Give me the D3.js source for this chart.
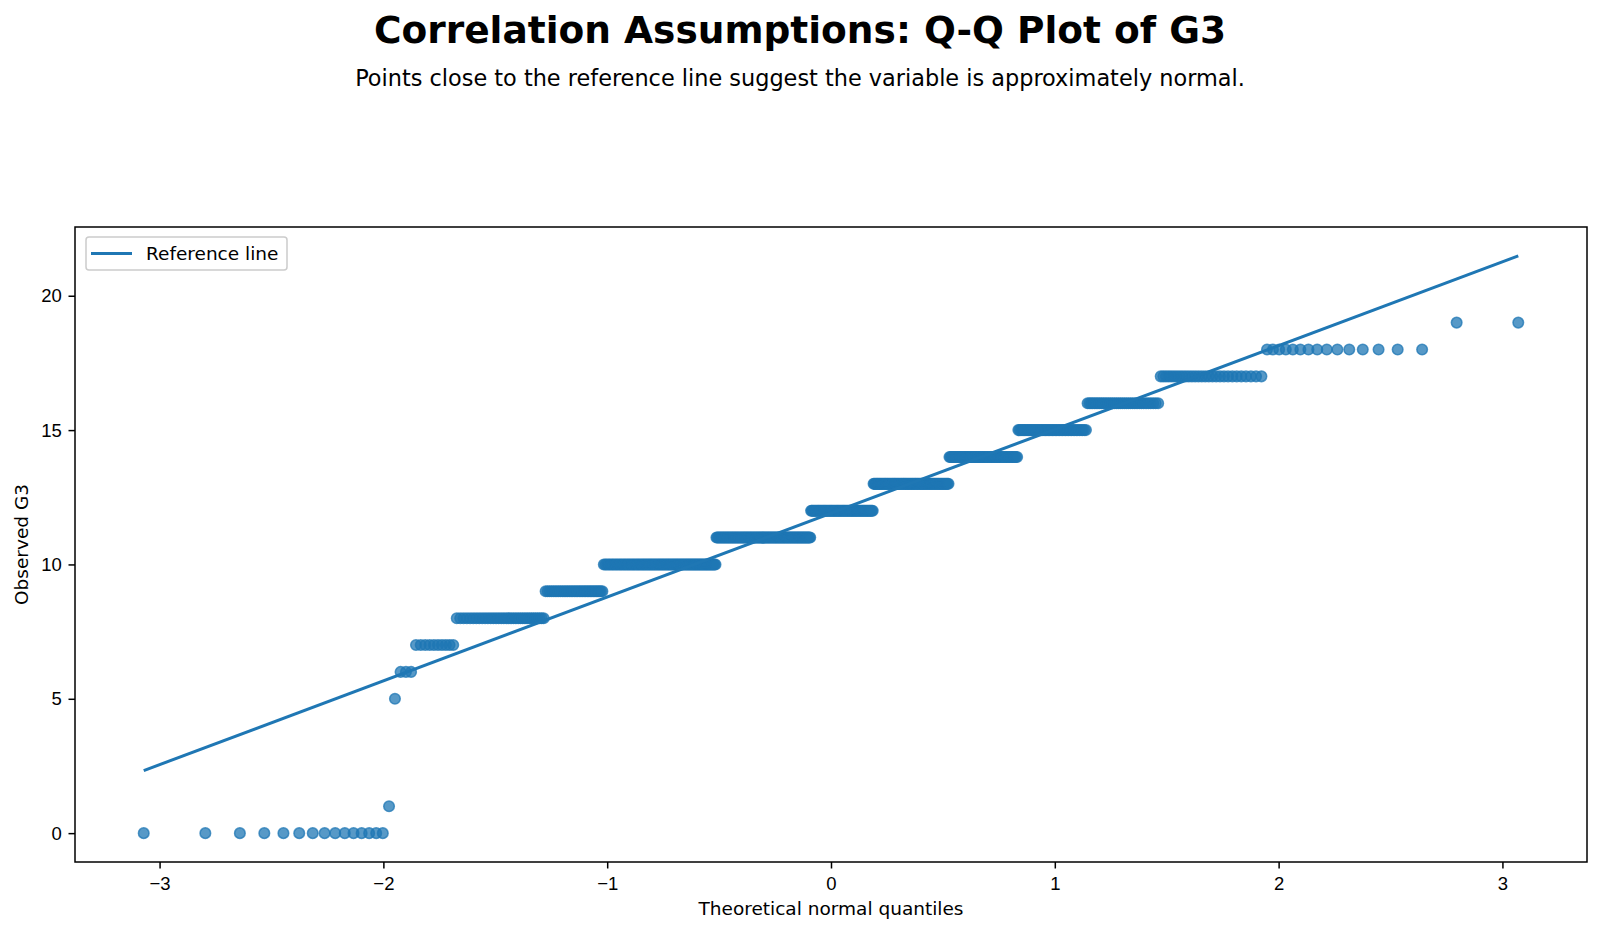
<!DOCTYPE html>
<html>
<head>
<meta charset="utf-8">
<script src="https://cdn.jsdelivr.net/npm/d3@7"></script>
<style>
  body { margin: 0; background: #fff; }
  svg { font-family: "DejaVu Sans", sans-serif; display: block; }
  .tick text { font-size: 18.5px; fill: #000; }
  .tick line { stroke: #000; stroke-width: 1.5; }
  .domain { display: none; }
</style>
</head>
<body>
<div id="chart"></div>
<script>
// G3 final grades (Portuguese course, n = 649) as value counts
const grades = [0, 1, 5, 6, 7, 8, 9, 10, 11, 12, 13, 14, 15, 16, 17, 18, 19];
const counts = [15, 1, 1, 3, 10, 35, 35, 97, 104, 72, 82, 63, 49, 36, 29, 15, 2];

const xTicks = [-3, -2, -1, 0, 1, 2, 3];
const yTicks = [0, 5, 10, 15, 20];

const titleText = 'Correlation Assumptions: Q-Q Plot of G3';
const subtitleText = 'Points close to the reference line suggest the variable is approximately normal.';
const xLabel = 'Theoretical normal quantiles';
const yLabel = 'Observed G3';
const legendLabel = 'Reference line';

const color = '#1f77b4';
const width = 1600, height = 932;
const margin = { top: 227, right: 13, bottom: 70, left: 75 };

// inverse normal cdf (Acklam)
function normInv(p) {
    const a = [-3.969683028665376e+01, 2.209460984245205e+02, -2.759285104469687e+02, 1.383577518672690e+02, -3.066479806614716e+01, 2.506628277459239e+00];
    const b = [-5.447609879822406e+01, 1.615858368580409e+02, -1.556989798598866e+02, 6.680131188771972e+01, -1.328068155288572e+01];
    const c = [-7.784894002430293e-03, -3.223964580411365e-01, -2.400758277161838e+00, -2.549732539343734e+00, 4.374664141464968e+00, 2.938163982698783e+00];
    const d = [7.784695709041462e-03, 3.224671290700398e-01, 2.445134137142996e+00, 3.754408661907416e+00];
    const pl = 0.02425;
    let q, r;
    if (p < pl) {
        q = Math.sqrt(-2 * Math.log(p));
        return (((((c[0]*q+c[1])*q+c[2])*q+c[3])*q+c[4])*q+c[5]) / ((((d[0]*q+d[1])*q+d[2])*q+d[3])*q+1);
    }
    if (p > 1 - pl) {
        q = Math.sqrt(-2 * Math.log(1 - p));
        return -(((((c[0]*q+c[1])*q+c[2])*q+c[3])*q+c[4])*q+c[5]) / ((((d[0]*q+d[1])*q+d[2])*q+d[3])*q+1);
    }
    q = p - 0.5; r = q * q;
    return (((((a[0]*r+a[1])*r+a[2])*r+a[3])*r+a[4])*r+a[5])*q / (((((b[0]*r+b[1])*r+b[2])*r+b[3])*r+b[4])*r+1);
}

// ordered observations + Filliben order statistic medians
const observed = [];
grades.forEach((g, i) => { for (let k = 0; k < counts[i]; k++) observed.push(g); });
const n = observed.length;
const points = observed.map((v, i) => {
    let m;
    if (i === n - 1) m = Math.pow(0.5, 1 / n);
    else if (i === 0) m = 1 - Math.pow(0.5, 1 / n);
    else m = (i + 1 - 0.3175) / (n + 0.365);
    return { x: normInv(m), y: v };
});

// least squares reference line
const mx = d3.mean(points, d => d.x), my = d3.mean(points, d => d.y);
const slope = d3.sum(points, d => (d.x - mx) * (d.y - my)) / d3.sum(points, d => (d.x - mx) ** 2);
const intercept = my - slope * mx;
const xExt = d3.extent(points, d => d.x);
const linePts = xExt.map(x => ({ x: x, y: intercept + slope * x }));

function padded(ext) {
    const p = (ext[1] - ext[0]) * 0.05;
    return [ext[0] - p, ext[1] + p];
}

const x = d3.scaleLinear()
    .domain(padded(xExt))
    .range([margin.left, width - margin.right]);
const y = d3.scaleLinear()
    .domain(padded(d3.extent(points.concat(linePts), d => d.y)))
    .range([height - margin.bottom, margin.top]);

const svg = d3.select('#chart').append('svg')
    .attr('width', width)
    .attr('height', height);

// titles
svg.append('text')
    .attr('x', 800).attr('y', 42.5)
    .attr('text-anchor', 'middle')
    .style('font-size', '37.5px').style('font-weight', 'bold')
    .text(titleText);
svg.append('text')
    .attr('x', 800).attr('y', 86)
    .attr('text-anchor', 'middle')
    .style('font-size', '22.4px')
    .text(subtitleText);

// axes
const fmt = d3.format('d');
svg.append('g')
    .attr('transform', `translate(0,${height - margin.bottom})`)
    .call(d3.axisBottom(x).tickValues(xTicks).tickFormat(fmt).tickSize(6.5).tickPadding(8));
svg.append('g')
    .attr('transform', `translate(${margin.left},0)`)
    .call(d3.axisLeft(y).tickValues(yTicks).tickFormat(fmt).tickSize(6.5).tickPadding(6.8));

// points
svg.append('g')
  .selectAll('circle')
    .data(points)
  .enter()
  .append('circle')
    .attr('cx', d => x(d.x))
    .attr('cy', d => y(d.y))
    .attr('r', 5.3)
    .attr('fill', color)
    .attr('fill-opacity', 0.75)
    .attr('stroke', color)
    .attr('stroke-opacity', 0.75)
    .attr('stroke-width', 1.5);

// reference line
svg.append('path')
    .datum(linePts)
    .attr('fill', 'none')
    .attr('stroke', color)
    .attr('stroke-width', 3)
    .attr('d', d3.line().x(d => x(d.x)).y(d => y(d.y)));

// frame
svg.append('rect')
    .attr('x', margin.left).attr('y', margin.top)
    .attr('width', width - margin.left - margin.right)
    .attr('height', height - margin.top - margin.bottom)
    .attr('fill', 'none')
    .attr('stroke', '#000')
    .attr('stroke-width', 1.5);

// axis labels
svg.append('text')
    .attr('x', (margin.left + width - margin.right) / 2).attr('y', 915)
    .attr('text-anchor', 'middle')
    .style('font-size', '18.5px')
    .text(xLabel);
svg.append('text')
    .attr('transform', `translate(27.5,${(margin.top + height - margin.bottom) / 2}) rotate(-90)`)
    .attr('text-anchor', 'middle')
    .style('font-size', '18.5px')
    .text(yLabel);

// legend
const legend = svg.append('g').attr('transform', 'translate(86,237)');
legend.append('rect')
    .attr('width', 201).attr('height', 33)
    .attr('rx', 3)
    .attr('fill', '#fff').attr('fill-opacity', 0.8)
    .attr('stroke', '#cccccc').attr('stroke-width', 1.5);
legend.append('line')
    .attr('x1', 5).attr('x2', 46)
    .attr('y1', 16.5).attr('y2', 16.5)
    .attr('stroke', color).attr('stroke-width', 3);
legend.append('text')
    .attr('x', 60).attr('y', 23)
    .style('font-size', '18.5px')
    .text(legendLabel);
</script>
</body>
</html>
